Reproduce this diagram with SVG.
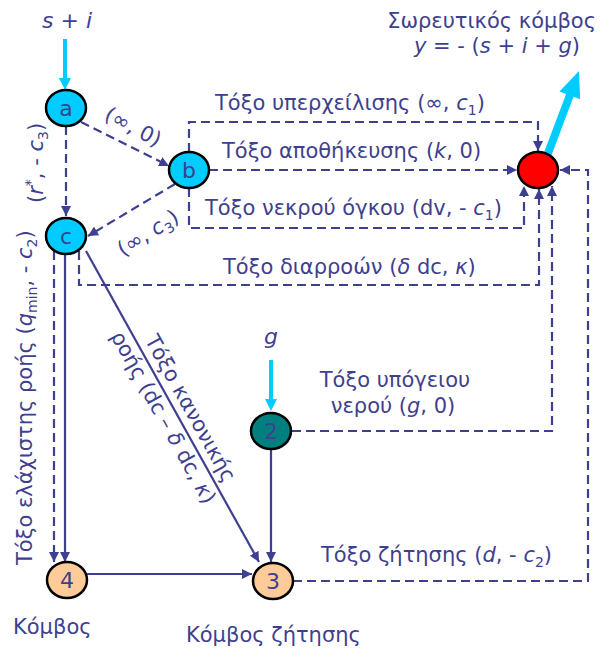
<svg xmlns="http://www.w3.org/2000/svg" width="604" height="651" viewBox="0 0 604 651">
<style>
.t{font-family:"DejaVu Sans",Verdana,sans-serif;font-size:21px;fill:#3f3f8f}
.i{font-style:italic}
.sub{font-size:14px}
.d{fill:none;stroke:#3f3f8f;stroke-width:2.2;stroke-dasharray:9 5}
.s{fill:none;stroke:#3f3f8f;stroke-width:2.2}
.n{stroke:#000;stroke-width:2.5}
.nl{font-family:"DejaVu Sans",Verdana,sans-serif;font-size:22px;fill:#3f3f8f;text-anchor:middle}
.cy{fill:#00ccff}
</style>
<defs>
<marker id="ah" markerUnits="userSpaceOnUse" markerWidth="10" markerHeight="10" refX="10" refY="5" orient="auto" viewBox="0 0 10 10">
<path d="M0,0 L10,5 L0,10 z" fill="#3f3f8f"/>
</marker>
</defs>
<rect width="604" height="651" fill="#fff"/>
<g id="connectors">
<path class="d" d="M66,126 V216" marker-end="url(#ah)"/>
<path class="d" d="M81,122 L169,166" marker-end="url(#ah)"/>
<path class="d" d="M175,184 L88,236" marker-end="url(#ah)"/>
<path class="d" d="M189,152 V122 H538 V151" marker-end="url(#ah)"/>
<path class="d" d="M209,170 H517" marker-end="url(#ah)"/>
<path class="d" d="M189,188 V228 H524 V186" marker-end="url(#ah)"/>
<path class="d" d="M79,251 V285 H539 V189" marker-end="url(#ah)"/>
<path class="d" d="M292,431 H552 V186" marker-end="url(#ah)"/>
<path class="d" d="M293,581 H588 V170 H560" marker-end="url(#ah)"/>
<path class="d" d="M54,251 V562" marker-end="url(#ah)"/>
<path class="s" d="M65,254 V562" marker-end="url(#ah)"/>
<path class="s" d="M86,251 L259,562" marker-end="url(#ah)"/>
<path class="s" d="M271,450 V562" marker-end="url(#ah)"/>
<path class="s" d="M87,574 H252" marker-end="url(#ah)"/>
<rect class="cy" x="63" y="39" width="4" height="40"/>
<polygon class="cy" points="59,78 71,78 65,90"/>
<rect class="cy" x="269" y="360" width="4" height="40"/>
<polygon class="cy" points="265,399 277,399 271,411"/>
<polygon class="cy" points="543.3,154.6 566.1,93.9 559.5,91.4 579,71 580.1,99.2 573.5,96.7 550.7,157.4"/>
</g>
<g id="node-a"><ellipse class="n cy" cx="66" cy="108" rx="20" ry="18"/><text class="nl" x="66" y="116">a</text></g>
<g id="node-b"><ellipse class="n cy" cx="189" cy="170" rx="20" ry="18"/><text class="nl" x="189" y="178">b</text></g>
<g id="node-c"><ellipse class="n cy" cx="66" cy="236" rx="20" ry="18"/><text class="nl" x="66" y="244">c</text></g>
<g id="node-sink"><ellipse class="n" fill="#ff0000" cx="538" cy="170" rx="20" ry="18"/></g>
<g id="node-2"><ellipse class="n" fill="#007f7f" cx="271" cy="431" rx="20" ry="18"/><text class="nl" x="271" y="439">2</text></g>
<g id="node-4"><ellipse class="n" fill="#ffcc99" cx="67" cy="580" rx="20" ry="18"/><text class="nl" x="67" y="588">4</text></g>
<g id="node-3"><ellipse class="n" fill="#ffcc99" cx="273" cy="581" rx="20" ry="18"/><text class="nl" x="273" y="589">3</text></g>
<g id="labels">
<text class="t" x="42" y="28" style="font-size:22px"><tspan class="i">s</tspan> + <tspan class="i">i</tspan></text>
<text class="t i" x="271" y="344" text-anchor="middle" style="font-size:22px">g</text>
<text class="t" x="596" y="28" text-anchor="end">Σωρευτικός κόμβος</text>
<text class="t" x="580" y="53" text-anchor="end"><tspan class="i">y</tspan> = - (<tspan class="i">s</tspan> + <tspan class="i">i</tspan> + <tspan class="i">g</tspan>)</text>
<text class="t" x="215" y="110">Τόξο υπερχείλισης (∞, <tspan class="i">c</tspan><tspan class="sub" dy="5">1</tspan><tspan dy="-5">)</tspan></text>
<text class="t" x="222" y="158">Τόξο αποθήκευσης (<tspan class="i">k</tspan>, 0)</text>
<text class="t" x="205" y="215">Τόξο νεκρού όγκου (dv, - <tspan class="i">c</tspan><tspan class="sub" dy="5">1</tspan><tspan dy="-5">)</tspan></text>
<text class="t" x="223" y="274">Τόξο διαρροών (<tspan class="i">δ</tspan> dc, <tspan class="i">κ</tspan>)</text>
<text class="t" x="395" y="387" text-anchor="middle">Τόξο υπόγειου</text>
<text class="t" x="393" y="413" text-anchor="middle">νερού (<tspan class="i">g</tspan>, 0)</text>
<text class="t" x="321" y="562">Τόξο ζήτησης (<tspan class="i">d</tspan>, - <tspan class="i">c</tspan><tspan class="sub" dy="5">2</tspan><tspan dy="-5">)</tspan></text>
<text class="t" x="13" y="634">Κόμβος</text>
<text class="t" x="186" y="642">Κόμβος ζήτησης</text>
<text class="t" transform="translate(133,127) rotate(28)" x="0" y="7" text-anchor="middle">(∞, 0)</text>
<text class="t" transform="translate(148,233) rotate(-32)" x="0" y="7" text-anchor="middle">(∞, <tspan class="i">c</tspan><tspan class="sub" dy="5">3</tspan><tspan dy="-5">)</tspan></text>
<text class="t" transform="translate(43,203) rotate(-90)">(<tspan class="i">r</tspan><tspan class="sub" dy="-8">*</tspan><tspan dy="8">, - </tspan><tspan class="i">c</tspan><tspan class="sub" dy="5">3</tspan><tspan dy="-5">)</tspan></text>
<text class="t" transform="translate(32,565) rotate(-90)">Τόξο ελάχιστης ροής (<tspan class="i">q</tspan><tspan class="sub" dy="5">min</tspan><tspan dy="-5">, - </tspan><tspan class="i">c</tspan><tspan class="sub" dy="5">2</tspan><tspan dy="-5">)</tspan></text>
<g transform="translate(86,251) rotate(61)">
<text class="t" x="106" y="-8">Τόξο κανονικής</text>
<text class="t" x="86" y="20">ροής (dc – <tspan class="i">δ</tspan> dc, <tspan class="i">κ</tspan>)</text>
</g>
</g>
</svg>
